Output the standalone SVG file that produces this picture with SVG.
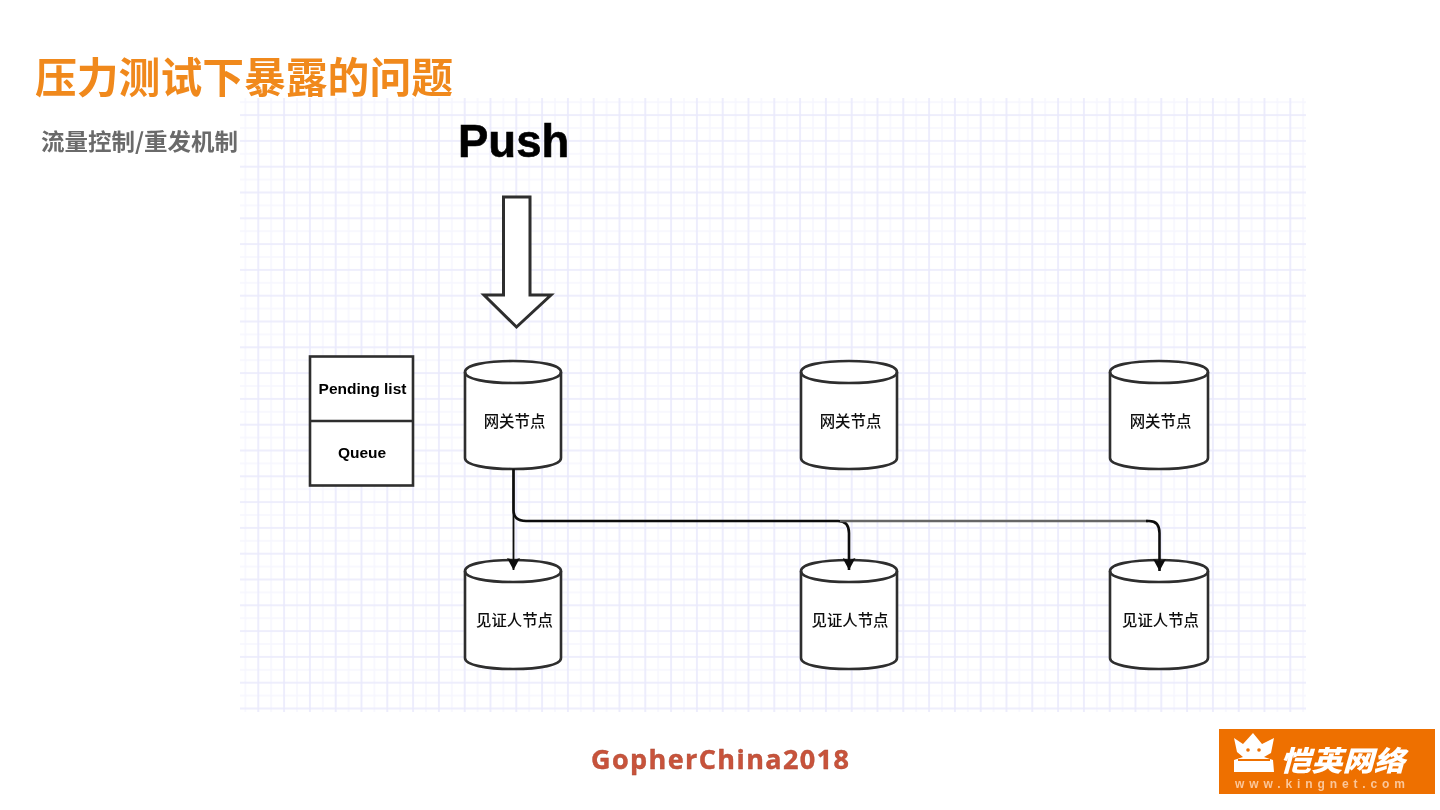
<svg xmlns="http://www.w3.org/2000/svg" width="1440" height="810" viewBox="0 0 1440 810">
<style>
.cjk{font-family:"Noto Sans CJK SC","Noto Sans",sans-serif}
.lat{font-family:"Liberation Sans",Arial,sans-serif;font-weight:700;fill:#000}
.lab{font-family:"Noto Sans CJK SC",sans-serif;font-size:15.4px;font-weight:500;fill:#111;text-anchor:middle}
.shape{fill:#fff;stroke:#2e2e2e;stroke-width:2.6}
.inner{fill:none;stroke:#2e2e2e;stroke-width:2.6}
.conn{fill:none;stroke:#111;stroke-width:2.6}
</style>
<defs>
<pattern id="grid" patternUnits="userSpaceOnUse" x="245.4" y="102.2" width="25.8" height="25.8">
<path d="M0 0V25.8M25.8 0V25.8M0 0H25.8M0 25.8H25.8" stroke="#f6f6fe" stroke-width="1.4" fill="none"/>
<path d="M12.9 0V25.8M0 12.9H25.8" stroke="#e9e9fc" stroke-width="1.6" fill="none"/>
</pattern>
<marker id="arr" markerUnits="userSpaceOnUse" markerWidth="13" markerHeight="13" refX="6.5" refY="13" orient="0" viewBox="0 0 13 13"><path d="M0 1 L6.500 3 L13 1 L6.500 13Z" fill="#111"/></marker>
<filter id="soft" x="-2%" y="-2%" width="104%" height="104%"><feGaussianBlur stdDeviation="0.6"/></filter>
<filter id="soft2" x="-2%" y="-5%" width="104%" height="110%"><feGaussianBlur stdDeviation="0.35"/></filter>
</defs>
<rect width="1440" height="810" fill="#fff"/>
<rect id="grid-bg" x="240" y="98" width="1066" height="614" fill="url(#grid)" filter="url(#soft)"/>
<text id="title" class="cjk" x="35" y="93" font-size="41.8" font-weight="700" fill="#f0891f" filter="url(#soft2)">压力测试下暴露的问题</text>
<text id="subtitle" class="cjk" x="41" y="150" font-size="23" font-weight="700" fill="#6b6b6b" textLength="197" lengthAdjust="spacingAndGlyphs" filter="url(#soft2)">流量控制/重发机制</text>
<g filter="url(#soft)">
<text id="push" class="lat" x="458" y="157" font-size="45.5" stroke="#000" stroke-width="0.6">Push</text>
<g id="push-arrow"><path class="shape" style="stroke-width:3" d="M503.5 197H530V295H551L516.5 327L484 295H503.5Z"/></g>
<g id="pending">
<rect class="shape" x="310" y="356.500" width="103" height="129"/>
<path class="inner" d="M310 421H413"/>
<text class="lat" x="362.500" y="393.500" font-size="15.500" text-anchor="middle">Pending list</text>
<text class="lat" x="362" y="457.500" font-size="15.500" text-anchor="middle">Queue</text>
</g>
<g id="gw1"><path class="shape" d="M465 372C465 365 486 361 513 361C540 361 561 365 561 372V458C561 465 540 469 513 469C486 469 465 465 465 458Z"/><path class="inner" d="M465 372C465 379 486 383 513 383C540 383 561 379 561 372"/><text class="lab" x="514.500" y="427">网关节点</text></g>
<g id="gw2"><path class="shape" d="M801 372C801 365 822 361 849 361C876 361 897 365 897 372V458C897 465 876 469 849 469C822 469 801 465 801 458Z"/><path class="inner" d="M801 372C801 379 822 383 849 383C876 383 897 379 897 372"/><text class="lab" x="850.500" y="427">网关节点</text></g>
<g id="gw3"><path class="shape" d="M1110 372C1110 365 1132 361 1159 361C1186 361 1208 365 1208 372V458C1208 465 1186 469 1159 469C1132 469 1110 465 1110 458Z"/><path class="inner" d="M1110 372C1110 379 1132 383 1159 383C1186 383 1208 379 1208 372"/><text class="lab" x="1160.500" y="427">网关节点</text></g>
<g id="wit1"><path class="shape" d="M465 571C465 564 486 560 513 560C540 560 561 564 561 571V658C561 665 540 669 513 669C486 669 465 665 465 658Z"/><path class="inner" d="M465 571C465 578 486 582 513 582C540 582 561 578 561 571"/><text class="lab" x="514.500" y="626">见证人节点</text></g>
<g id="wit2"><path class="shape" d="M801 571C801 564 822 560 849 560C876 560 897 564 897 571V658C897 665 876 669 849 669C822 669 801 665 801 658Z"/><path class="inner" d="M801 571C801 578 822 582 849 582C876 582 897 578 897 571"/><text class="lab" x="850" y="626">见证人节点</text></g>
<g id="wit3"><path class="shape" d="M1110 571C1110 564 1132 560 1159 560C1186 560 1208 564 1208 571V658C1208 665 1186 669 1159 669C1132 669 1110 665 1110 658Z"/><path class="inner" d="M1110 571C1110 578 1132 582 1159 582C1186 582 1208 578 1208 571"/><text class="lab" x="1160.500" y="626">见证人节点</text></g>
<g id="connectors">
<path class="conn" d="M513.500 469V570" style="stroke-width:1.800" marker-end="url(#arr)"/>
<path class="conn" d="M513.500 469V510Q513.500 521 526 521H838Q849 521 849 533V570" marker-end="url(#arr)"/>
<path class="conn" style="stroke:#666;stroke-width:2.4" d="M840 521H1148"/>
<path class="conn" d="M1146 521H1149Q1159.500 521 1159.500 533V571" marker-end="url(#arr)"/>
</g>
</g>
<text id="footer" x="591" y="769" font-family="'Open Sans',sans-serif" font-size="27" font-weight="700" fill="#c8523a" stroke="#a94a35" stroke-width="0.4" textLength="258" filter="url(#soft2)">GopherChina2018</text>
<g id="logo" filter="url(#soft2)">
<rect x="1219" y="729" width="216" height="65" fill="#ee6f00"/>
<path fill="#fff" d="M1234 738L1243 744L1253 733L1262 744L1274 738L1271 753L1264 757L1273 760L1274 772L1234 772L1234 760L1243 757L1237 752Z"/>
<circle cx="1248" cy="750" r="1.800" fill="#ee6f00"/><circle cx="1259" cy="750" r="1.800" fill="#ee6f00"/>
<path d="M1238 760H1270" stroke="#ee6f00" stroke-width="2"/>
<text x="1280" y="771" class="cjk" font-size="28" font-weight="900" font-style="italic" fill="#fff" textLength="125" lengthAdjust="spacingAndGlyphs">恺英网络</text>
<text x="1235" y="788" font-family="'Liberation Sans',sans-serif" font-size="12" font-weight="700" fill="#fbc79a" textLength="170">www.kingnet.com</text>
</g>
</svg>
